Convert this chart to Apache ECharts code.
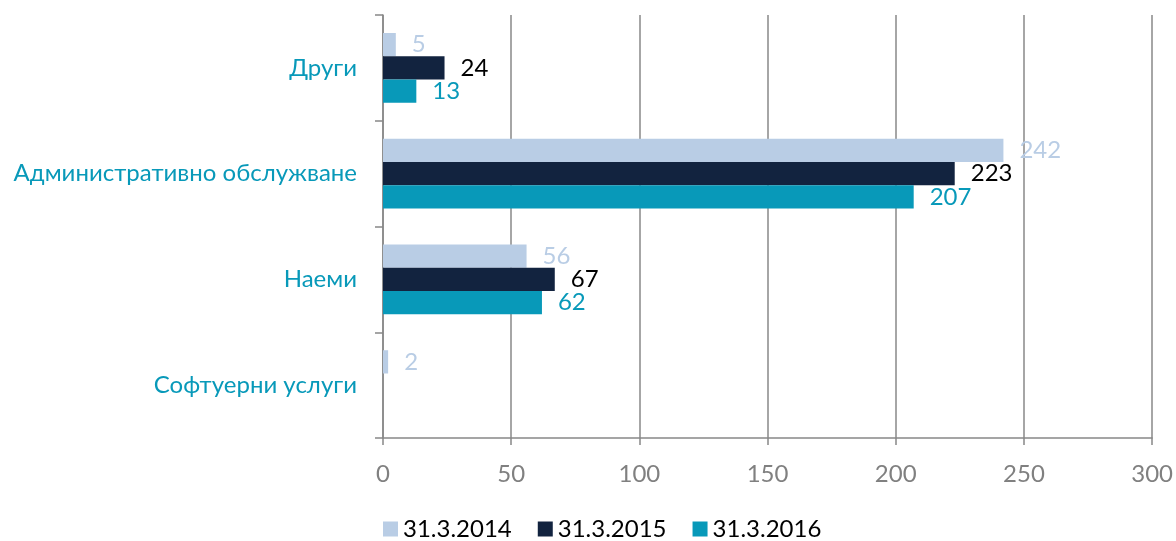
<!DOCTYPE html>
<html>
<head>
    <meta charset="utf-8">
    <script src="https://cdn.jsdelivr.net/npm/echarts@6/dist/echarts.min.js"></script>
    <style>
        html, body { margin: 0; padding: 0; background: #fff; }
    </style>
</head>
<body>
<div id="main" style="width: 1176px;height:541px;"></div>
<script type="text/javascript">
    // categories, top to bottom
    var categories = ['Други', 'Административно обслужване', 'Наеми', 'Софтуерни услуги'];
    var seriesNames = ['31.3.2014', '31.3.2015', '31.3.2016'];
    var data2014 = [5, 242, 56, 2];
    var data2015 = [24, 223, 67, null];
    var data2016 = [13, 207, 62, null];
    var xTicks = [0, 50, 100, 150, 200, 250, 300];

    var colors = ['#b9cde5', '#12233f', '#0899b9'];
    var labelColors = ['#b9cde5', '#000000', '#0899b9'];
    var font = 'Lato, "Open Sans", sans-serif';
    var fs = 24;

    function makeSeries(i, values) {
        return {
            name: seriesNames[i],
            type: 'bar',
            data: values,
            barGap: '0%',
            barCategoryGap: '34%',
            itemStyle: { color: colors[i] },
            label: {
                show: true,
                position: 'right',
                distance: 16,
                color: labelColors[i],
                fontSize: fs,
                fontFamily: font
            }
        };
    }

    var myChart = echarts.init(document.getElementById('main'));
    var option = {
        animation: false,
        grid: { left: 383, right: 23, top: 15, bottom: 103 },
        legend: {
            left: 378,
            bottom: -5,
            itemWidth: 15,
            itemHeight: 15,
            itemGap: 26,
            icon: 'rect',
            textStyle: { fontSize: fs, color: '#000', fontFamily: font },
            data: seriesNames
        },
        xAxis: {
            type: 'value',
            min: xTicks[0],
            max: xTicks[xTicks.length - 1],
            interval: 50,
            axisLine: { show: true, lineStyle: { color: '#888', width: 1.5 } },
            axisTick: { show: true, length: 7, lineStyle: { color: '#888', width: 1.5 } },
            splitLine: { show: true, lineStyle: { color: '#888', width: 1.5 } },
            axisLabel: { fontSize: fs, color: '#808080', margin: 24, fontFamily: font }
        },
        yAxis: {
            type: 'category',
            inverse: true,
            data: categories,
            axisLine: { show: true, lineStyle: { color: '#888', width: 1.5 } },
            axisTick: { show: true, length: 8, lineStyle: { color: '#888', width: 1.5 } },
            axisLabel: { fontSize: fs, color: '#0899b9', margin: 26, fontFamily: font }
        },
        series: [
            makeSeries(0, data2014),
            makeSeries(1, data2015),
            makeSeries(2, data2016)
        ]
    };
    myChart.setOption(option);
</script>
</body>
</html>
